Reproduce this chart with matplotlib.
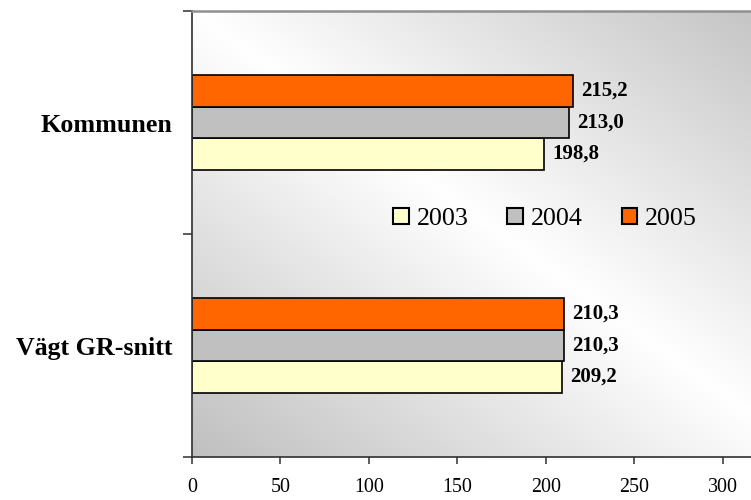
import numpy as np
import matplotlib
matplotlib.use("Agg")
import matplotlib.pyplot as plt

# data
categories = ["Vägt GR-snitt", "Kommunen"]
years = ["2003", "2004", "2005"]
values_2003 = [209.2, 198.8]
values_2004 = [210.3, 213.0]
values_2005 = [210.3, 215.2]
x_ticks = [0, 50, 100, 150, 200, 250, 300]

colors = ["#FFFFCC", "#C0C0C0", "#FF6600"]
series = [values_2003, values_2004, values_2005]

plt.rcParams['font.family'] = ['Liberation Serif', 'DejaVu Serif']

fig = plt.figure(figsize=(7.51, 5.0), dpi=100)
ax = fig.add_axes([192 / 751, 43 / 500, 559 / 751, 446 / 500])

x_max = 316.0
ax.set_xlim(0, x_max)
ax.set_ylim(-0.5, 1.5)

# diagonal gradient background (light along the anti-diagonal)
full_w = 350.0 / x_max  # plot area continues past the crop
u = np.linspace(0, 1, 400)[None, :] / full_w
v = np.linspace(1, 0, 300)[:, None]
t = np.abs(u + v - 1.0)
grey = 1.0 - t * (1.0 - 0.75)
img = np.dstack([grey, grey, grey])
ax.imshow(img, extent=[0, x_max, -0.5, 1.5], aspect='auto', zorder=0,
          interpolation='bilinear')

h = 0.141
ypos = np.arange(len(categories))
for i, (vals, col, yr) in enumerate(zip(series, colors, years)):
    off = (i - 1) * h
    bars = ax.barh(ypos + off, vals, height=h, color=col, edgecolor='black',
                   linewidth=1.2, label=yr, zorder=2)
    for b, val in zip(bars, vals):
        ax.annotate(f"{val:.1f}".replace(".", ","),
                    xy=(b.get_width(), b.get_y() + b.get_height() / 2),
                    xytext=(6, 0), textcoords='offset points',
                    ha='left', va='center', fontsize=15, fontweight='bold',
                    zorder=3)

# axes styling
ax.set_xticks(x_ticks)
ax.set_xticklabels([str(x) for x in x_ticks], fontsize=14.4)
ax.set_yticks([-0.5, 0.5, 1.5])
ax.set_yticklabels([])
ax.set_yticks(ypos, minor=True)
ax.set_yticklabels(categories, minor=True, fontsize=18.7, fontweight='bold')
ax.tick_params(axis='y', which='minor', length=0, pad=14)
ax.tick_params(axis='y', which='major', length=6.5, width=1.2, color='#404040')
ax.tick_params(axis='x', length=5, width=1.2, color='#404040', pad=10)

ax.spines['right'].set_visible(False)
ax.spines['top'].set_color('#909090')
ax.spines['top'].set_linewidth(1.8)
ax.spines['left'].set_color('#303030')
ax.spines['left'].set_linewidth(1.2)
ax.spines['bottom'].set_color('#303030')
ax.spines['bottom'].set_linewidth(1.2)

leg = ax.legend(loc='center', bbox_to_anchor=(545 / 751 * 751 / 559 - 192 / 559, (500 - 219 - 43) / 446),
                ncol=3, frameon=False, fontsize=18.7, handlelength=0.6,
                handleheight=0.6, handletextpad=0.3, columnspacing=1.5,
                borderpad=0)
for p in leg.get_patches():
    p.set_linewidth(1.5)

fig.savefig("out.png", dpi=100)
